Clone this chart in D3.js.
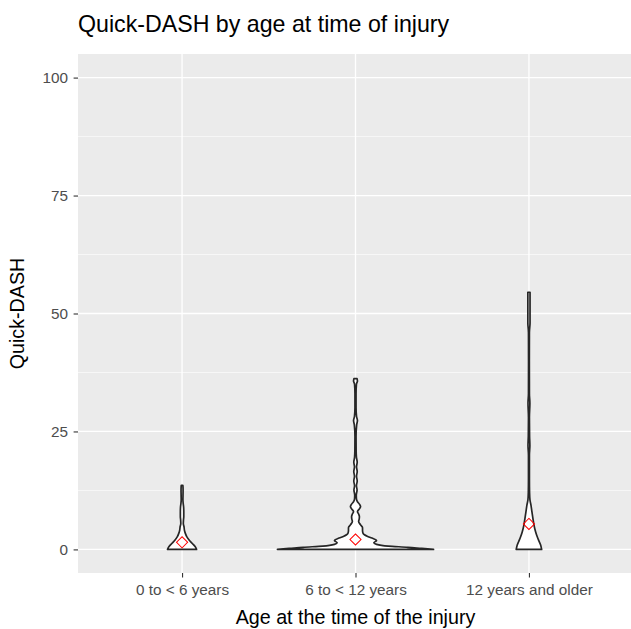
<!DOCTYPE html>
<html>
<head>
<meta charset="utf-8">
<script src="https://cdn.jsdelivr.net/npm/d3@7"></script>
<style>
  html, body { margin: 0; padding: 0; background: #ffffff; }
  svg { display: block; }
  text { font-family: "Liberation Sans", Arial, "DejaVu Sans", sans-serif; }
</style>
</head>
<body>
<svg id="chart" width="631" height="629"></svg>
<script>
// ---------- data ----------
const categories = ["0 to < 6 years", "6 to < 12 years", "12 years and older"];
const yTicks = [0, 25, 50, 75, 100];
const yMinorTicks = [12.5, 37.5, 62.5, 87.5];
const means = [1.5, 2.1, 5.4];

// violin outlines: Quick-DASH value and relative half-width (1 = widest)
const g1Values = [0, 0.6, 1.3, 2.0, 2.7, 3.4, 4.1, 4.8, 5.5, 6.2, 7.0, 8.0, 9.0, 9.8, 10.5, 11.5, 12.5, 13.2, 13.6];
const g1Widths = [0.186, 0.167, 0.128, 0.09, 0.06, 0.042, 0.03, 0.025, 0.016, 0.018, 0.022, 0.022, 0.02, 0.014, 0.011, 0.012, 0.013, 0.012, 0.01];

const g2Values = [0, 0.2, 0.45, 0.7, 1.07, 1.4, 1.9, 2.4, 2.8, 3.1, 3.5, 4.0, 4.6, 5.2, 5.9, 6.5, 7.0, 7.5, 8.0, 8.6, 9.1, 9.6, 10.1, 10.7, 11.5, 12.6, 13.5, 14.5, 15.5, 16.5, 17.5, 18.5, 19.5, 21, 24, 26.4, 27.3, 28.2, 30, 33, 35, 35.7, 36.2];
const g2Widths = [1.0, 0.85, 0.67, 0.42, 0.27, 0.235, 0.27, 0.21, 0.15, 0.115, 0.095, 0.09, 0.09, 0.065, 0.04, 0.048, 0.05, 0.04, 0.025, 0.05, 0.065, 0.05, 0.025, 0.012, 0.01, 0.02, 0.012, 0.022, 0.013, 0.022, 0.013, 0.022, 0.012, 0.008, 0.007, 0.015, 0.025, 0.013, 0.007, 0.007, 0.012, 0.025, 0.02];

const g3Values = [0, 0.93, 2.3, 3.7, 5.2, 6.6, 8.0, 9.4, 10.5, 12, 15, 20, 22, 24, 28, 31, 33, 40, 46, 48, 51, 54.5];
const g3Widths = [0.163, 0.15, 0.115, 0.086, 0.064, 0.051, 0.038, 0.026, 0.013, 0.008, 0.006, 0.006, 0.012, 0.008, 0.006, 0.012, 0.006, 0.005, 0.006, 0.014, 0.014, 0.014];

const groupValues = [g1Values, g2Values, g3Values];
const groupWidths = [g1Widths, g2Widths, g3Widths];

// ---------- layout ----------
const W = 631, H = 629;
const panel = { left: 78, top: 54, right: 633, bottom: 573 };
const FONT = '"Liberation Sans", Arial, sans-serif';

const svg = d3.select("#chart");

const x = d3.scalePoint().domain(categories).range([panel.left, panel.right]).padding(0.6);
const y = d3.scaleLinear().domain([-5, 105]).range([panel.bottom, panel.top]);
const halfW = d3.scaleLinear().domain([0, 1]).range([0, 0.45 * x.step()]);

svg.append("clipPath").attr("id", "pclip").append("rect")
  .attr("x", panel.left).attr("y", panel.top)
  .attr("width", panel.right - panel.left).attr("height", panel.bottom - panel.top);

// panel background
svg.append("rect")
  .attr("x", panel.left).attr("y", panel.top)
  .attr("width", panel.right - panel.left).attr("height", panel.bottom - panel.top)
  .attr("fill", "#EBEBEB");

const grid = svg.append("g").attr("clip-path", "url(#pclip)");
grid.selectAll("line.minor").data(yMinorTicks).join("line")
  .attr("class", "minor")
  .attr("x1", panel.left).attr("x2", panel.right)
  .attr("y1", d => y(d)).attr("y2", d => y(d))
  .attr("stroke", "#ffffff").attr("stroke-width", 0.6);
grid.selectAll("line.majory").data(yTicks).join("line")
  .attr("class", "majory")
  .attr("x1", panel.left).attr("x2", panel.right)
  .attr("y1", d => y(d)).attr("y2", d => y(d))
  .attr("stroke", "#ffffff").attr("stroke-width", 1.3);
grid.selectAll("line.majorx").data(categories).join("line")
  .attr("class", "majorx")
  .attr("x1", d => x(d)).attr("x2", d => x(d))
  .attr("y1", panel.top).attr("y2", panel.bottom)
  .attr("stroke", "#ffffff").attr("stroke-width", 1.3);

// violins
const violins = svg.append("g").attr("clip-path", "url(#pclip)");
categories.forEach((cat, i) => {
  const pts = groupValues[i].map((v, j) => ({ v: v, w: groupWidths[i][j] }));
  const area = d3.area()
    .y(d => y(d.v))
    .x0(d => x(cat) - halfW(d.w))
    .x1(d => x(cat) + halfW(d.w))
    .curve(d3.curveMonotoneY);
  violins.append("path")
    .attr("d", area(pts))
    .attr("fill", "#ffffff")
    .attr("stroke", "#262626")
    .attr("stroke-width", 1.7)
    .attr("stroke-linejoin", "round");
});

// mean markers (open diamonds)
const diamond = d3.symbol().type(d3.symbolSquare).size(62);
violins.selectAll("path.mean").data(means).join("path")
  .attr("class", "mean")
  .attr("d", diamond())
  .attr("transform", (d, i) => `translate(${x(categories[i])},${y(d)}) rotate(45)`)
  .attr("fill", "none")
  .attr("stroke", "#FF0000")
  .attr("stroke-width", 1);

// axes
const yAxis = d3.axisLeft(y).tickValues(yTicks).tickSize(4.4).tickPadding(5.6);
const gy = svg.append("g").attr("transform", `translate(${panel.left},0)`).call(yAxis);
gy.select(".domain").remove();
gy.selectAll(".tick line").attr("stroke", "#333333").attr("stroke-width", 1.1);
gy.selectAll(".tick text").attr("fill", "#4D4D4D").attr("font-size", "15.3px").attr("font-family", FONT);

const xAxis = d3.axisBottom(x).tickSize(4.4).tickPadding(6.5);
const gx = svg.append("g").attr("transform", `translate(0,${panel.bottom})`).call(xAxis);
gx.select(".domain").remove();
gx.selectAll(".tick line").attr("stroke", "#333333").attr("stroke-width", 1.1);
gx.selectAll(".tick text").attr("fill", "#4D4D4D").attr("font-size", "15.3px").attr("font-family", FONT);

// titles
svg.append("text")
  .attr("x", panel.left).attr("y", 32.3)
  .attr("font-size", "23.2px").attr("fill", "#000000").attr("font-family", FONT)
  .text("Quick-DASH by age at time of injury");

svg.append("text")
  .attr("x", (panel.left + panel.right) / 2).attr("y", 623.5)
  .attr("text-anchor", "middle")
  .attr("font-size", "19.7px").attr("fill", "#000000").attr("font-family", FONT)
  .text("Age at the time of the injury");

svg.append("text")
  .attr("transform", `translate(24,${(panel.top + panel.bottom) / 2}) rotate(-90)`)
  .attr("text-anchor", "middle")
  .attr("font-size", "19.7px").attr("fill", "#000000").attr("font-family", FONT)
  .text("Quick-DASH");
</script>
</body>
</html>
